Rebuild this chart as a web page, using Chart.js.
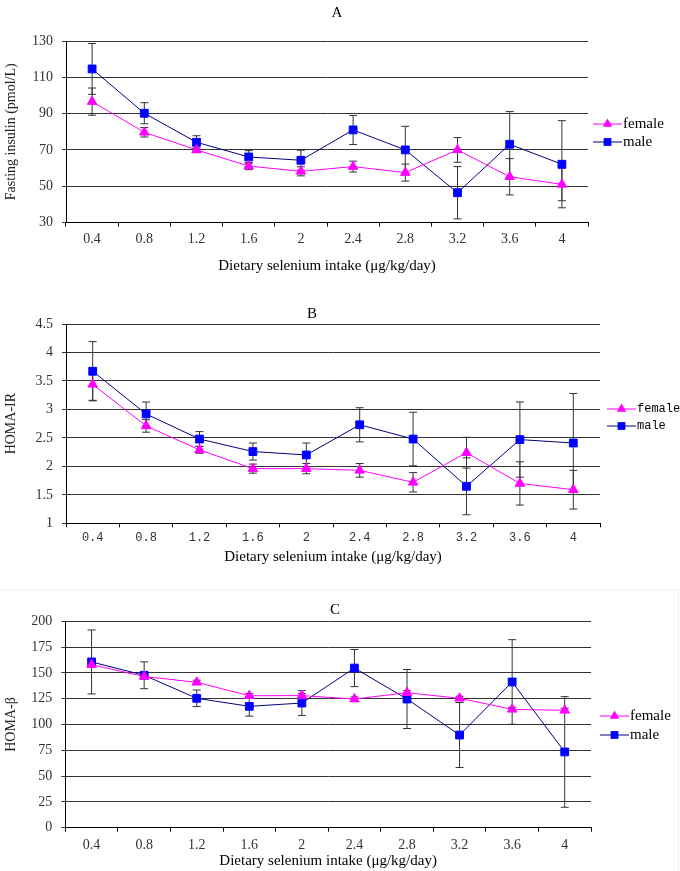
<!DOCTYPE html>
<html>
<head>
<meta charset="utf-8">
<script src="https://cdn.jsdelivr.net/npm/chart.js@4.4.0/dist/chart.umd.min.js"></script>
<style>
  body { margin: 0; background: #fff; }
  .panel { position: absolute; left: 0; width: 680px; }
  .letter { position: absolute; font-family: "Liberation Serif", serif; font-size: 15px; color: #000; transform: translate(-50%, -50%); }
  #boxC { position: absolute; left: -1px; top: 589px; width: 678px; height: 290px; border: 1px solid #f0f0f0; }
</style>
</head>
<body>
<div id="boxC"></div>
<div class="panel" style="top:0;height:280px"><canvas id="chartA"></canvas></div>
<div class="panel" style="top:290px;height:280px"><canvas id="chartB"></canvas></div>
<div class="panel" style="top:590px;height:281px"><canvas id="chartC"></canvas></div>
<div class="letter" style="left:337px;top:12px">A</div>
<div class="letter" style="left:312px;top:313px">B</div>
<div class="letter" style="left:335px;top:609px">C</div>
<script>
const categories = ["0.4", "0.8", "1.2", "1.6", "2", "2.4", "2.8", "3.2", "3.6", "4"];

// A: fasting insulin
const insulinFemale = [96.6, 79.7, 70.0, 61.1, 58.2, 60.8, 57.5, 70.0, 55.2, 51.0];
const insulinFemaleErr = [7.5, 2.6, 1.5, 2, 2.5, 3, 4.7, 6.8, 10, 9];
const insulinMale = [114.6, 90.2, 74.2, 66.1, 64.3, 81.0, 70.0, 46.4, 73.1, 62.1];
const insulinMaleErr = [14, 5.8, 3.6, 3.5, 5.5, 8, 13, 14.4, 18, 24];
const insulinTicks = [30, 130, 20];

// B: HOMA-IR
const irFemale = [3.44, 2.71, 2.29, 1.96, 1.96, 1.93, 1.72, 2.24, 1.70, 1.59];
const irFemaleErr = [0.28, 0.11, 0.06, 0.08, 0.09, 0.12, 0.17, 0.27, 0.38, 0.34];
const irMale = [3.67, 2.92, 2.48, 2.26, 2.20, 2.73, 2.48, 1.65, 2.47, 2.41];
const irMaleErr = [0.52, 0.21, 0.13, 0.15, 0.21, 0.30, 0.47, 0.50, 0.66, 0.87];
const irTicks = [1, 4.5, 0.5];

// C: HOMA-beta
const betaFemale = [158, 146.5, 140.9, 127.9, 128, 124.7, 130.8, 125.4, 114.7, 113.7];
const betaFemaleErr = [2, 2, 2, 2, 2, 2, 2, 2, 2, 2];
const betaMale = [160.6, 147.7, 125.4, 117.6, 120.8, 154.7, 124.7, 89.8, 141.2, 73.4];
const betaMaleErr = [31, 13, 8, 9.5, 12, 18, 28.6, 31.5, 41, 53.6];
const betaTicks = [0, 200, 25];

const serif = "'Liberation Serif', 'Times New Roman', serif";
const mono = "'Liberation Mono', 'DejaVu Sans Mono', monospace";

const errorBars = {
  id: "errorBars",
  beforeDatasetsDraw(chart) {
    const ctx = chart.ctx;
    const y = chart.scales.y;
    chart.data.datasets.forEach((ds, i) => {
      const meta = chart.getDatasetMeta(i);
      meta.data.forEach((pt, j) => {
        const v = ds.data[j];
        const e = ds.errors[j];
        const top = y.getPixelForValue(v + e);
        const bot = y.getPixelForValue(v - e);
        ctx.save();
        ctx.strokeStyle = "#333";
        ctx.lineWidth = 1;
        ctx.beginPath();
        ctx.moveTo(pt.x, top);
        ctx.lineTo(pt.x, bot);
        ctx.moveTo(pt.x - 4, top);
        ctx.lineTo(pt.x + 4, top);
        ctx.moveTo(pt.x - 4, bot);
        ctx.lineTo(pt.x + 4, bot);
        ctx.stroke();
        ctx.restore();
      });
    });
  },
};

function marker(ctx, style, x, y, r) {
  ctx.beginPath();
  if (style === "rect") {
    const s = r * Math.SQRT1_2;
    ctx.rect(x - s, y - s, 2 * s, 2 * s);
  } else {
    ctx.moveTo(x, y - r);
    ctx.lineTo(x + r * 0.866, y + r * 0.5);
    ctx.lineTo(x - r * 0.866, y + r * 0.5);
    ctx.closePath();
  }
  ctx.fill();
}

const lineLegend = {
  id: "lineLegend",
  afterDraw(chart, args, opts) {
    const ctx = chart.ctx;
    const x0 = chart.chartArea.right + opts.dx;
    chart.data.datasets.forEach((ds, i) => {
      const y = opts.ys[i];
      ctx.save();
      ctx.strokeStyle = ds.borderColor;
      ctx.lineWidth = 1;
      ctx.beginPath();
      ctx.moveTo(x0, y);
      ctx.lineTo(x0 + opts.len, y);
      ctx.stroke();
      ctx.fillStyle = ds.pointBackgroundColor;
      marker(ctx, ds.pointStyle, x0 + opts.len / 2, y, 5.5);
      ctx.fillStyle = "#000";
      ctx.font = opts.font;
      ctx.textBaseline = "middle";
      ctx.fillText(ds.label, x0 + opts.len + 1, y);
      ctx.restore();
    });
  },
};

function makePanel(id, p) {
  new Chart(document.getElementById(id), {
    type: "line",
    data: {
      labels: categories,
      datasets: [
        {
          label: "female",
          data: p.female,
          errors: p.femaleErr,
          borderColor: "#ff00ff",
          borderWidth: 1,
          pointStyle: "triangle",
          pointRadius: 5.5,
          pointBackgroundColor: "#ff00ff",
          pointBorderColor: "#ff00ff",
          tension: 0,
        },
        {
          label: "male",
          data: p.male,
          errors: p.maleErr,
          borderColor: "#000080",
          borderWidth: 1,
          pointStyle: "rect",
          pointRadius: 5.5,
          pointBackgroundColor: "#0000ff",
          pointBorderColor: "#0000ff",
          tension: 0,
        },
      ],
    },
    plugins: [errorBars, lineLegend],
    options: {
      responsive: true,
      maintainAspectRatio: false,
      animation: false,
      layout: { padding: { top: p.top, right: p.right, left: 0, bottom: 0 } },
      plugins: {
        legend: { display: false },
        tooltip: { enabled: false },
        lineLegend: { dx: p.legendDx, len: 29, ys: p.legendYs, font: p.legendFont },
      },
      scales: {
        x: {
          offset: true,
          grid: { offset: true, drawOnChartArea: false, tickLength: 4, color: "#000" },
          border: { color: "#000" },
          ticks: { color: "#333", font: p.xFont, padding: p.xPad, maxRotation: 0 },
          title: {
            display: true,
            text: "Dietary selenium intake (\u03bcg/kg/day)",
            color: "#000",
            font: { family: serif, size: 15 },
            padding: { top: 0, bottom: p.titlePad },
          },
          afterFit(scale) { scale.height = p.xHeight; },
        },
        y: {
          min: p.ticks[0],
          max: p.ticks[1],
          ticks: {
            stepSize: p.ticks[2],
            color: "#333",
            font: { family: serif, size: 14 },
            padding: 9,
            callback: (v) => String(v),
          },
          grid: { color: "#333", tickLength: 4, lineWidth: 1 },
          border: { color: "#000" },
          title: {
            display: true,
            text: p.yTitle,
            color: "#222",
            font: { family: serif, size: 14 },
            padding: { top: 2.6, bottom: 0 },
          },
          afterFit(scale) { scale.width = p.yWidth; },
        },
      },
    },
  });
}

makePanel("chartA", {
  female: insulinFemale, femaleErr: insulinFemaleErr,
  male: insulinMale, maleErr: insulinMaleErr,
  ticks: insulinTicks, yTitle: "Fasting insulin (pmol/L)",
  top: 41, right: 92, yWidth: 66, xHeight: 57.5,
  xFont: { family: serif, size: 14 }, xPad: 4.1, titlePad: 5,
  legendDx: 5, legendYs: [124, 142], legendFont: "15px " + serif,
});

makePanel("chartB", {
  female: irFemale, femaleErr: irFemaleErr,
  male: irMale, maleErr: irMaleErr,
  ticks: irTicks, yTitle: "HOMA-IR",
  top: 34, right: 80, yWidth: 66, xHeight: 46.7,
  xFont: { family: mono, size: 12 }, xPad: 3.8, titlePad: 4.3,
  legendDx: 7, legendYs: [119, 136], legendFont: "12px " + mono,
});

makePanel("chartC", {
  female: betaFemale, femaleErr: betaFemaleErr,
  male: betaMale, maleErr: betaMaleErr,
  ticks: betaTicks, yTitle: "HOMA-\u03b2",
  top: 31.3, right: 89, yWidth: 65.3, xHeight: 43.3,
  xFont: { family: serif, size: 14 }, xPad: 4.9, titlePad: 1,
  legendDx: 9, legendYs: [126, 145], legendFont: "15px " + serif,
});
</script>
</body>
</html>
